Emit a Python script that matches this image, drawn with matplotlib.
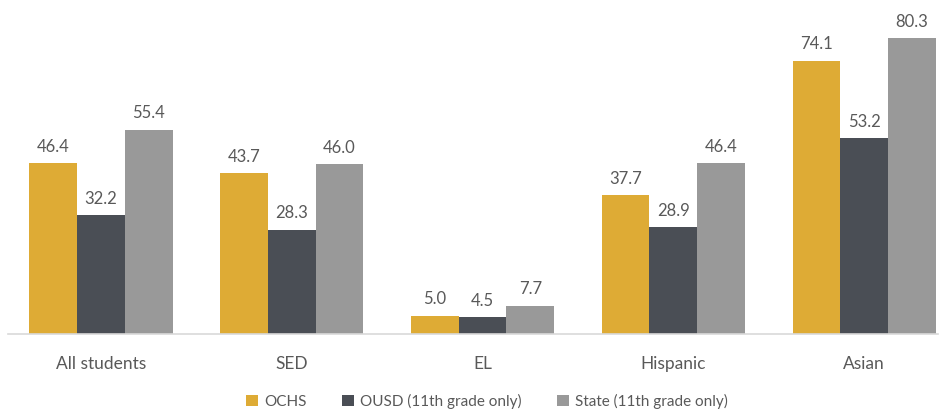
import matplotlib.pyplot as plt
import numpy as np
from matplotlib.patches import Patch

plt.rcParams['font.family'] = ['Lato', 'DejaVu Sans']

groups = ["All students", "SED", "EL", "Hispanic", "Asian"]
series = ["OCHS", "OUSD (11th grade only)", "State (11th grade only)"]
ochs = [46.4, 43.7, 5.0, 37.7, 74.1]
ousd = [32.2, 28.3, 4.5, 28.9, 53.2]
state = [55.4, 46.0, 7.7, 46.4, 80.3]
colors = ["#DEAB35", "#4A4E55", "#999999"]
text_color = "#595959"

fig = plt.figure(figsize=(9.44, 4.17), dpi=100)
ax = fig.add_axes([0.0, 0.199, 1.0, 0.801])

x = np.arange(len(groups))
w = 0.25
for i, vals in enumerate([ochs, ousd, state]):
    pos = x + (i - 1) * w
    ax.bar(pos, vals, width=w, color=colors[i])
    for p, v in zip(pos, vals):
        ax.text(p, v + 2.2, "%.1f" % v, ha='center', va='bottom',
                fontsize=12, color=text_color)

ax.set_xlim(-0.5295, 4.419)
ax.set_ylim(0, 90.5)
ax.set_yticks([])
ax.set_xticks(x)
ax.set_xticklabels(groups, fontsize=12.5, color=text_color)
ax.tick_params(axis='x', length=0, pad=16)
for s in ['top', 'right', 'left']:
    ax.spines[s].set_visible(False)
ax.spines['bottom'].set_color('#d9d9d9')
ax.spines['bottom'].set_linewidth(1.2)
ax.spines['bottom'].set_bounds(-0.49, 4.39)

handles = [Patch(facecolor=c, edgecolor='none') for c in colors]
fig.legend(handles, series, loc='center', bbox_to_anchor=(0.516, 0.038),
           ncol=3, frameon=False, fontsize=11, labelcolor=text_color,
           handlelength=0.8, handleheight=0.8, handletextpad=0.4,
           columnspacing=2.3)

fig.savefig("out.png")
